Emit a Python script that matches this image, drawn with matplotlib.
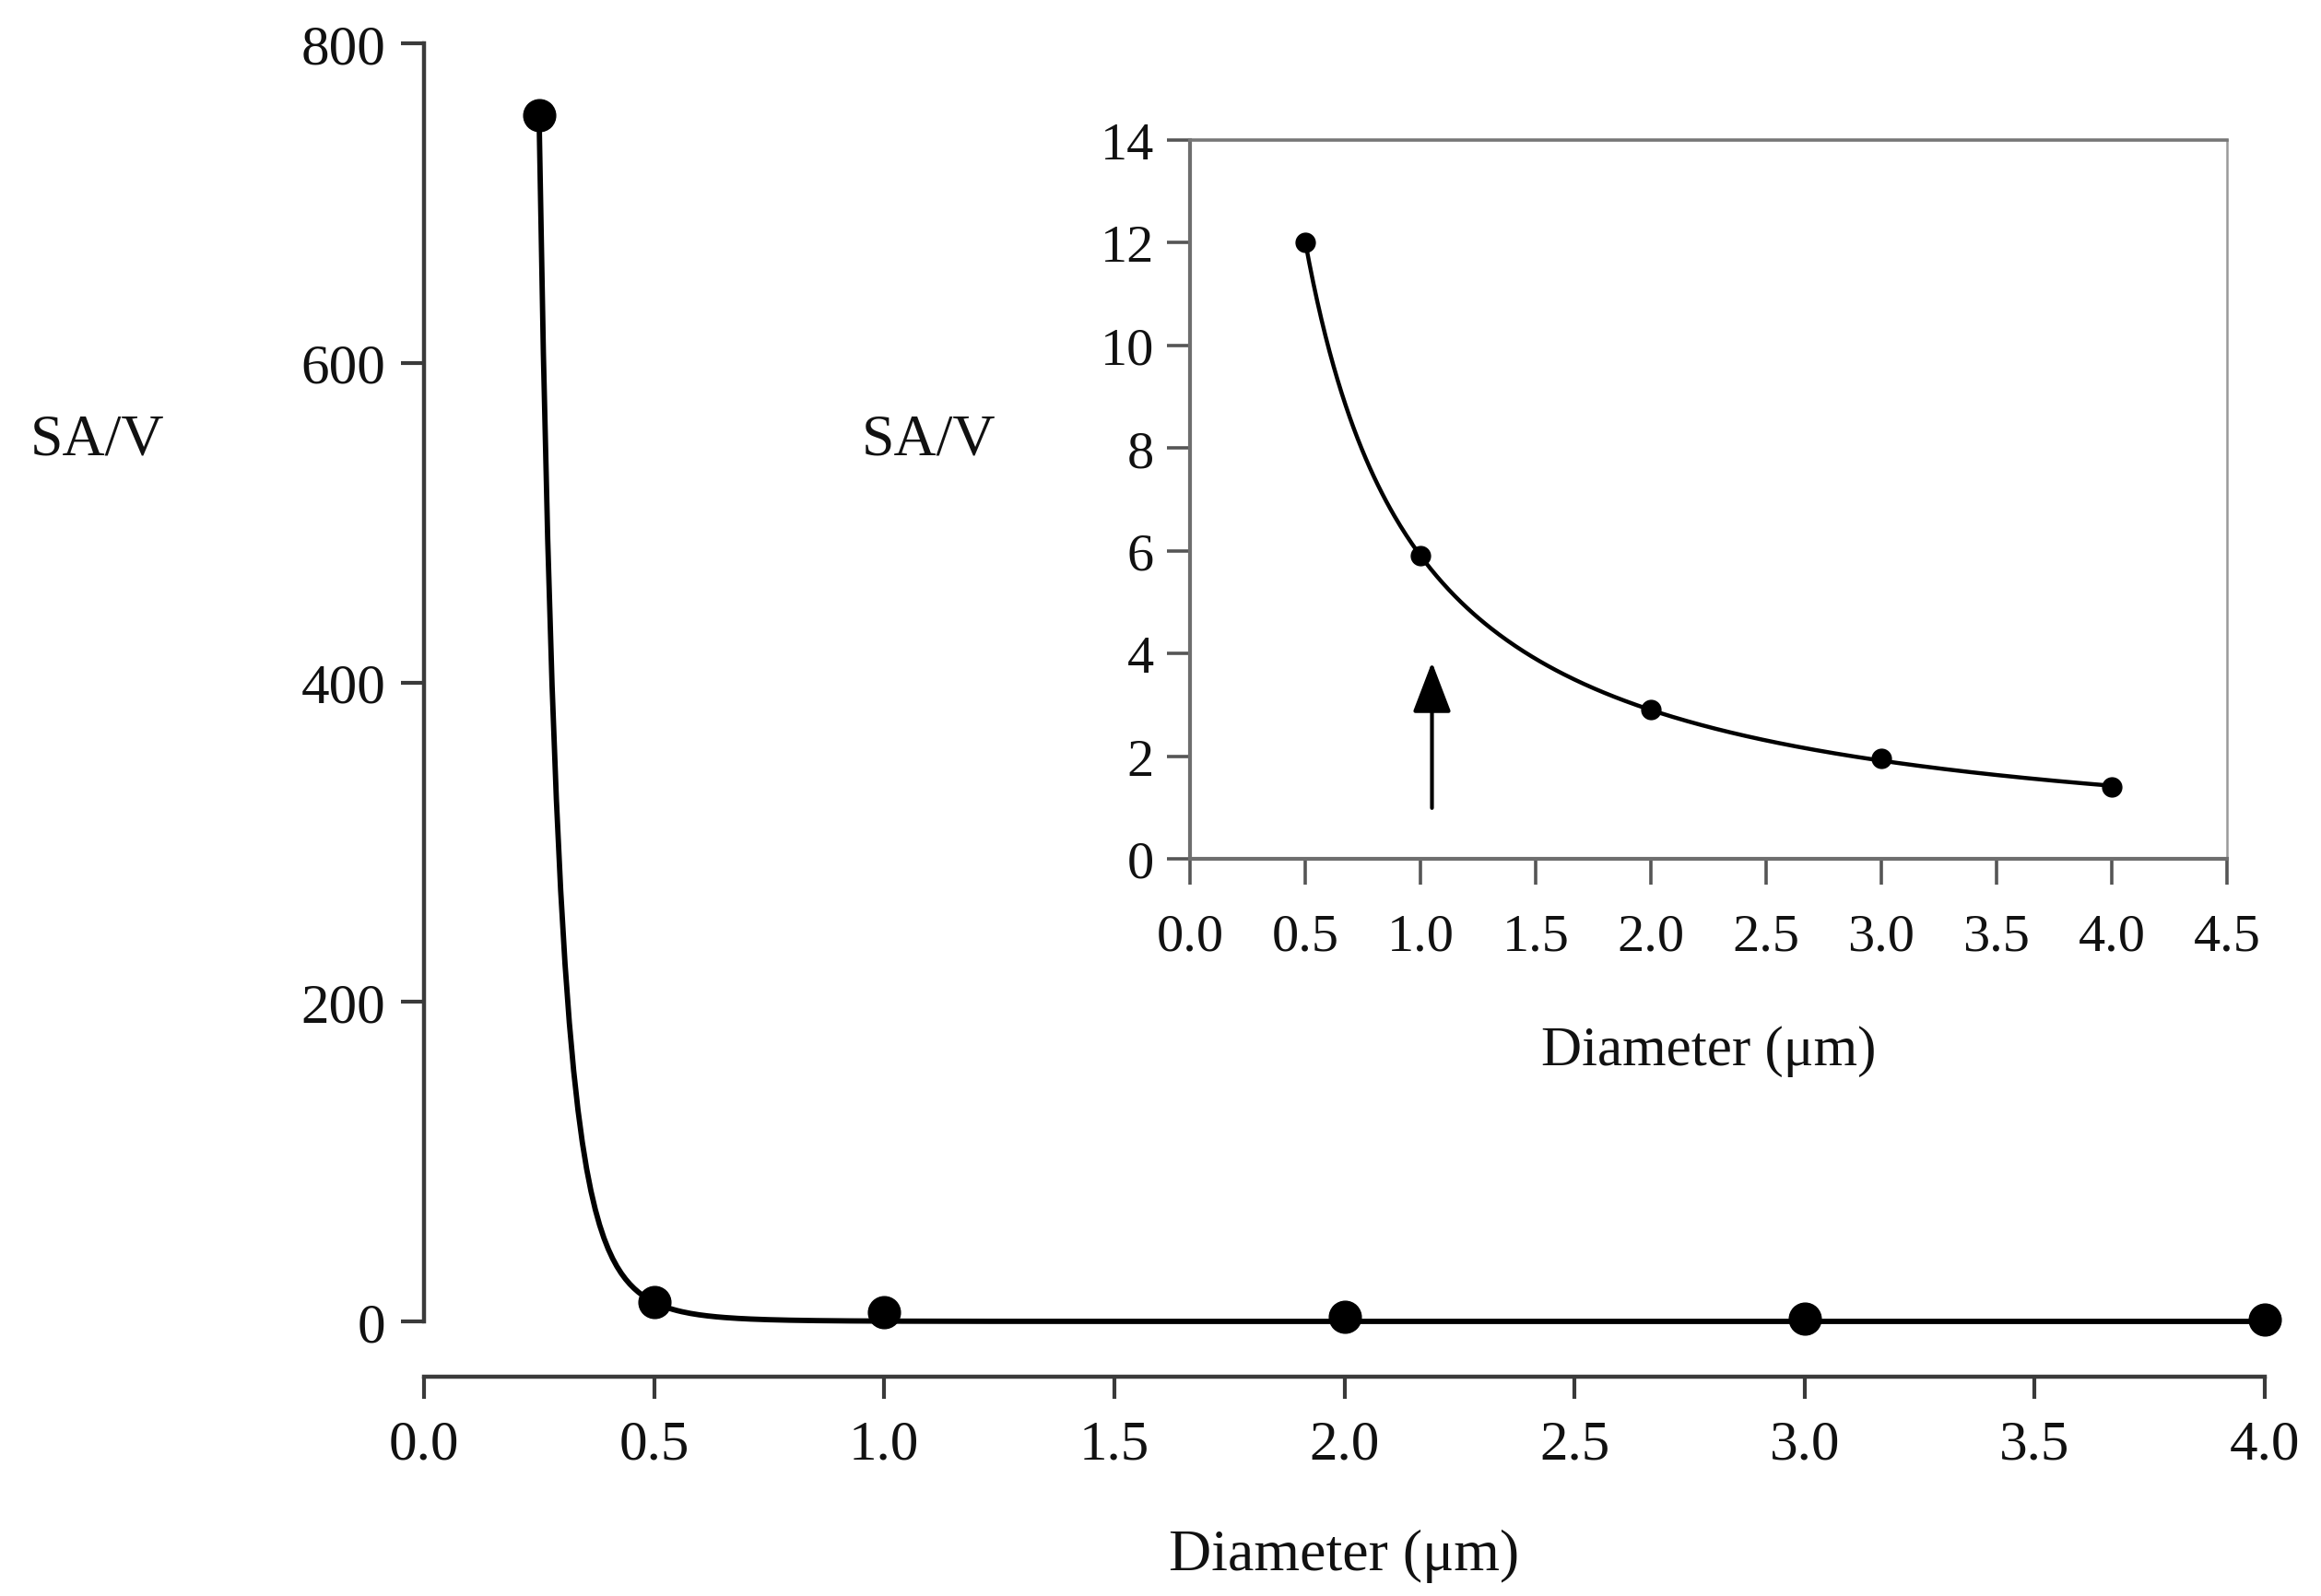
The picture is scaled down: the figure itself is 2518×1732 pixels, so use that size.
import numpy as np
import matplotlib
matplotlib.use("Agg")
import matplotlib.pyplot as plt

# ---- data ----
main_diam = [0.25, 0.5, 1.0, 2.0, 3.0, 4.0]
main_sav = [755, 12, 5.9, 2.9, 1.95, 1.4]
inset_diam = [0.5, 1.0, 2.0, 3.0, 4.0]
inset_sav = [12, 5.9, 2.9, 1.95, 1.4]
main_yticks = [0, 200, 400, 600, 800]
main_xticks = [0.0, 0.5, 1.0, 1.5, 2.0, 2.5, 3.0, 3.5, 4.0]
inset_yticks = [0, 2, 4, 6, 8, 10, 12, 14]
inset_xticks = [0.0, 0.5, 1.0, 1.5, 2.0, 2.5, 3.0, 3.5, 4.0, 4.5]
arrow_x = 1.05
arrow_tail = 0.99
arrow_tip = 3.83
xlabel_text = "Diameter (μm)"
ylabel_text = "SA/V"

plt.rcParams['font.family'] = ['Liberation Serif', 'DejaVu Serif']


def power_curve(xp, yp, x_from, x_to, n=400):
    """Power-law trend line y = a * x**b fitted (log-log least squares) to the points."""
    b, la = np.polyfit(np.log(xp), np.log(yp), 1)
    xs = np.linspace(x_from, x_to, n)
    return xs, np.exp(la) * xs ** b


W, H = 2518, 1733
fig = plt.figure(figsize=(W / 100, H / 100), dpi=100)
fig.patch.set_facecolor('white')

# ---- main axes ----
ax = fig.add_axes([460 / W, (H - 1435) / H, 1997 / W, (1435 - 48) / H])
# trend line follows the steep first two points
sx, sy = power_curve(main_diam[:2], main_sav[:2], main_diam[0], main_diam[-1])
ax.plot(sx, sy, color='black', lw=4.2, clip_on=False, zorder=3)
ax.plot(main_diam, main_sav, 'o', color='black', ms=25, clip_on=False, zorder=4)
ax.set_xlim(0, 4)
ax.set_ylim(0, 800)
ax.set_xticks(main_xticks)
ax.set_xticklabels([f"{v:.1f}" for v in main_xticks])
ax.set_yticks(main_yticks)
ax.set_yticklabels([str(v) for v in main_yticks])
for s in ['top', 'right']:
    ax.spines[s].set_visible(False)
ax.spines['bottom'].set_position(('outward', 43))
for s in ['left', 'bottom']:
    ax.spines[s].set_linewidth(3.2)
    ax.spines[s].set_color('#3a3a3a')
ax.tick_params(axis='both', direction='out', width=3, color='#3a3a3a',
               labelsize=44, labelcolor='#111111')
ax.tick_params(axis='y', length=18, pad=12)
ax.tick_params(axis='x', length=17, pad=16)
ax.set_xlabel(xlabel_text, fontsize=46, color='#111111', labelpad=46)
ax.set_ylabel(ylabel_text, fontsize=46, rotation=0, color='#111111')
ax.yaxis.set_label_coords((106 - 460) / 1997, (1435 - 478) / (1435 - 48))
ax.yaxis.label.set_va('center')
ax.yaxis.label.set_ha('center')
ax.patch.set_alpha(0)

# ---- inset axes ----
ai = fig.add_axes([1291 / W, (H - 933) / H, 1125 / W, 780 / H])
ix, iy = power_curve(inset_diam, inset_sav, inset_diam[0], inset_diam[-1])
ai.plot(ix, iy, color='black', lw=3.2, zorder=3)
ai.plot(inset_diam, inset_sav, 'o', color='black', ms=15, zorder=4)
ai.set_xlim(0, 4.5)
ai.set_ylim(0, 14)
ai.set_xticks(inset_xticks)
ai.set_xticklabels([f"{v:.1f}" for v in inset_xticks])
ai.set_yticks(inset_yticks)
ai.set_yticklabels([str(v) for v in inset_yticks])
for s, c, w in [('left', '#6e6e6e', 3.0), ('bottom', '#6e6e6e', 3.0),
                ('top', '#777777', 2.6), ('right', '#9a9a9a', 1.8)]:
    ai.spines[s].set_color(c)
    ai.spines[s].set_linewidth(w)
ai.tick_params(axis='both', direction='out', width=2.6, color='#555555',
               labelsize=42, labelcolor='#111111')
ai.tick_params(axis='y', length=18, pad=10)
ai.tick_params(axis='x', length=20, pad=22)
ai.set_xlabel(xlabel_text, fontsize=44, color='#111111', labelpad=50)
ai.set_ylabel(ylabel_text, fontsize=46, rotation=0, color='#111111')
ai.yaxis.set_label_coords((1008 - 1291) / 1125, (933 - 479) / 780)
ai.yaxis.label.set_va('center')
ai.yaxis.label.set_ha('center')
ai.annotate('', xy=(arrow_x, arrow_tip), xytext=(arrow_x, arrow_tail),
            arrowprops=dict(arrowstyle='-|>,head_length=34,head_width=13',
                            mutation_scale=1, lw=3, color='black',
                            shrinkA=0, shrinkB=0))
ai.patch.set_alpha(0)

fig.savefig('out.png', dpi=100, facecolor='white')
